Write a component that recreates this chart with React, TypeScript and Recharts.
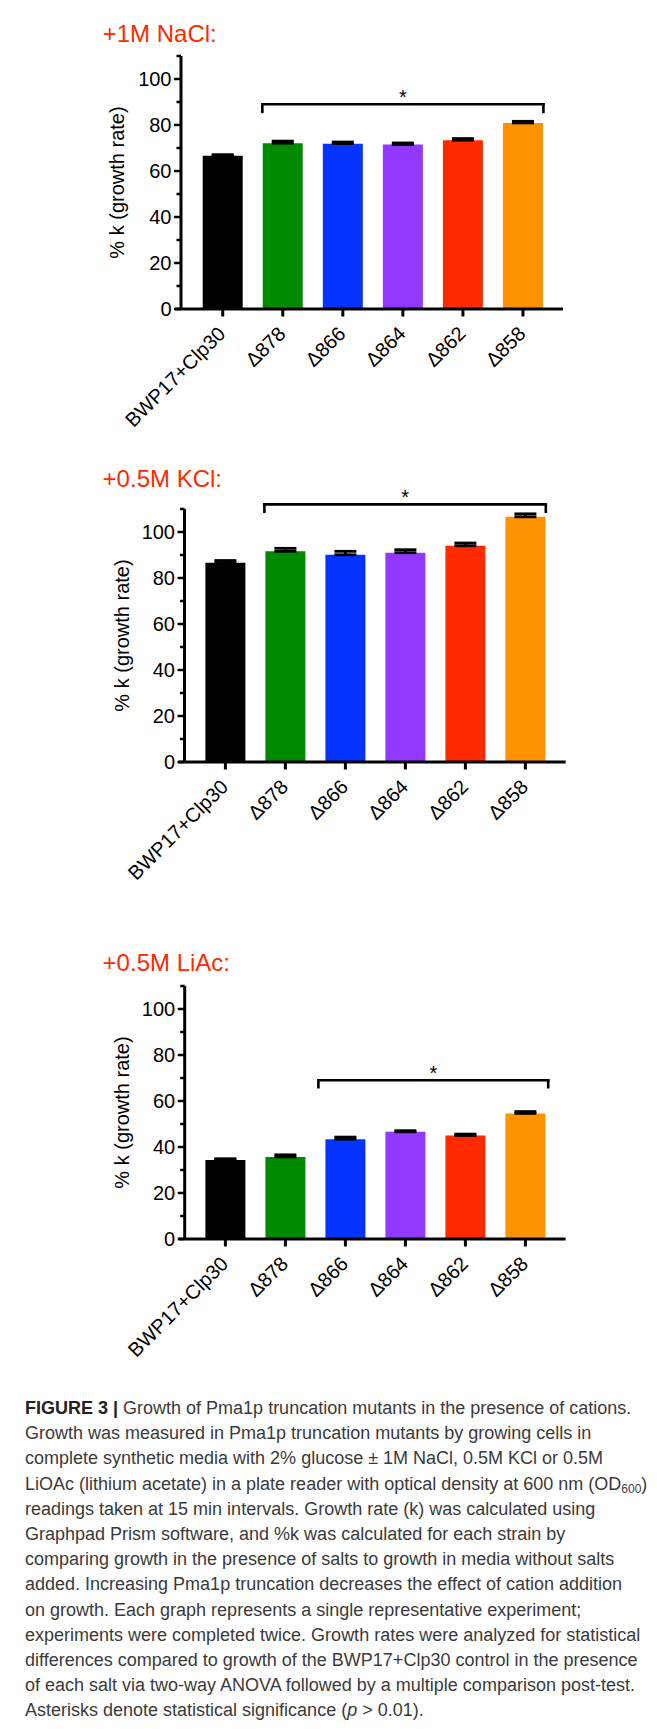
import React from 'react';
import { BarChart, Bar, XAxis, YAxis, ErrorBar, Cell, ReferenceLine, ReferenceDot } from 'recharts';

// ---------- data ----------
const categories = ['BWP17+Clp30', 'Δ878', 'Δ866', 'Δ864', 'Δ862', 'Δ858'];
const barColors = ['#000000', '#008A00', '#0533FF', '#9238FF', '#FF2A00', '#FF9200'];

const naclValues = [66.6, 72.1, 71.9, 71.5, 73.4, 80.9];
const naclErrors = [0.5, 0.9, 0.7, 0.7, 0.7, 0.7];

const kclValues = [86.6, 91.6, 90.1, 91.0, 94.0, 106.6];
const kclErrors = [1.0, 1.3, 1.5, 1.3, 1.2, 1.3];

const liacValues = [34.4, 35.7, 43.4, 46.6, 45.0, 54.6];
const liacErrors = [0.5, 0.9, 0.9, 0.5, 0.6, 0.8];

const yTicks = [0, 10, 20, 30, 40, 50, 60, 70, 80, 90, 100, 110];
const yDomain = [0, 110];

// significance brackets: span in category-index units (0 = first bar centre) and height (in % k)
const naclBracket = { from: 0.66, to: 5.34, level: 89, drop: 3.3 };
const kclBracket = { from: 0.65, to: 5.34, level: 112, drop: 3.2 };
const liacBracket = { from: 1.55, to: 5.38, level: 69, drop: 3.0 };

const titles = ['+1M NaCl:', '+0.5M KCl:', '+0.5M LiAc:'];
const yAxisLabel = '% k (growth rate)';

const captionLines: React.ReactNode[] = [
  <><b style={{ fontWeight: 700, color: '#222' }}>FIGURE 3 |</b> Growth of Pma1p truncation mutants in the presence of cations.</>,
  'Growth was measured in Pma1p truncation mutants by growing cells in',
  'complete synthetic media with 2% glucose \u00B1 1M NaCl, 0.5M KCl or 0.5M',
  <>LiOAc (lithium acetate) in a plate reader with optical density at 600 nm (OD<sub style={{ fontSize: '12px', verticalAlign: '-3px', lineHeight: 0 }}>600</sub>)</>,
  'readings taken at 15 min intervals. Growth rate (k) was calculated using',
  'Graphpad Prism software, and %k was calculated for each strain by',
  'comparing growth in the presence of salts to growth in media without salts',
  'added. Increasing Pma1p truncation decreases the effect of cation addition',
  'on growth. Each graph represents a single representative experiment;',
  'experiments were completed twice. Growth rates were analyzed for statistical',
  'differences compared to growth of the BWP17+Clp30 control in the presence',
  'of each salt via two-way ANOVA followed by a multiple comparison post-test.',
  <>Asterisks denote statistical significance (<i>p</i> &gt; 0.01).</>,
];

const FONT = '"Liberation Sans", Arial, Helvetica, sans-serif';

// ---------- tick renderers ----------
const YTick = (props: any) => {
  const { x, y, payload } = props;
  const v = payload.value;
  const major = v % 20 === 0 && v <= 100;
  return (
    <g>
      <line x1={x - (major ? 7 : 4.5)} x2={x} y1={y} y2={y} stroke="#000" strokeWidth={2.5} />
      {major && (
        <text x={x - 9.5} y={y} dy="0.36em" textAnchor="end" fontSize={20} fontFamily={FONT} fill="#000">
          {v}
        </text>
      )}
    </g>
  );
};

const XTick = (props: any) => {
  const { x, y, payload } = props;
  const ax = x + 4;
  const ay = y + 26;
  return (
    <g>
      <line x1={x} x2={x} y1={y} y2={y + 7.5} stroke="#000" strokeWidth={3} />
      <text
        x={ax}
        y={ay}
        textAnchor="end"
        transform={`rotate(-45 ${ax} ${ay})`}
        fontSize={20}
        fontFamily={FONT}
        fill="#000"
      >
        {payload.value}
      </text>
    </g>
  );
};

const YLabel = (props: any) => {
  const { viewBox, gap } = props;
  const cx = viewBox.x + viewBox.width - gap;
  const cy = viewBox.y + viewBox.height / 2;
  return (
    <text
      x={cx}
      y={cy}
      dy="0.35em"
      textAnchor="middle"
      transform={`rotate(-90 ${cx} ${cy})`}
      fontSize={20}
      fontFamily={FONT}
      fill="#000"
    >
      {yAxisLabel}
    </text>
  );
};

const Star = (props: any) => {
  const { cx, cy } = props;
  return (
    <text x={cx} y={cy - 0.5} textAnchor="middle" fontSize={20} fontFamily={FONT} fill="#000">
      *
    </text>
  );
};

// ---------- panel ----------
type Geometry = {
  axisX: number;
  plotTop: number;
  padL: number;
  padR: number;
  plotRight: number;
  labelGap: number;
  titleX: number;
  titleBaseline: number;
};

const MT = 40;
const PLOT_H = 253;
const XH = 135;
const CHART_W = 620;
const BAND = 60;

function Panel({
  title,
  values,
  errors,
  bracket,
  g,
}: {
  title: string;
  values: number[];
  errors: number[];
  bracket: { from: number; to: number; level: number; drop: number };
  g: Geometry;
}) {
  const rows = categories.map((name, i) => ({ name, value: values[i], err: [0, errors[i]] }));
  const mid = (bracket.from + bracket.to) / 2;
  const lineProps = {
    xAxisId: 'n',
    stroke: '#000',
    strokeWidth: 2.6,
    ifOverflow: 'visible' as const,
    strokeLinecap: 'square' as any,
  };
  const axisStart = -0.5 - g.padL / BAND;
  return (
    <>
      <div
        style={{
          position: 'absolute',
          left: g.titleX,
          top: g.titleBaseline - 20.3,
          fontFamily: FONT,
          fontSize: 24,
          lineHeight: '24px',
          color: '#FF2A00',
          whiteSpace: 'nowrap',
        }}
      >
        {title}
      </div>
      <div style={{ position: 'absolute', left: 0, top: g.plotTop - MT }}>
        <BarChart
          width={CHART_W}
          height={MT + PLOT_H + XH}
          data={rows}
          margin={{ top: MT, right: CHART_W - g.plotRight, bottom: 0, left: 0 }}
        >
          <XAxis
            dataKey="name"
            type="category"
            interval={0}
            padding={{ left: g.padL, right: g.padR }}
            axisLine={{ stroke: '#000', strokeWidth: 3 }}
            tickLine={false}
            tickSize={0}
            tickMargin={0}
            tick={<XTick />}
            height={XH}
          />
          <XAxis
            xAxisId="n"
            type="number"
            domain={[0, categories.length - 1]}
            allowDataOverflow
            padding={{ left: g.padL + BAND / 2, right: g.padR + BAND / 2 }}
            hide
          />
          <YAxis
            type="number"
            domain={yDomain}
            ticks={yTicks}
            interval={0}
            allowDataOverflow
            width={g.axisX}
            axisLine={{ stroke: '#000', strokeWidth: 3 }}
            tickLine={false}
            tickSize={0}
            tickMargin={0}
            tick={<YTick />}
            label={<YLabel gap={g.labelGap} />}
          />
          <Bar dataKey="value" barSize={40} isAnimationActive={false}>
            {rows.map((r, i) => (
              <Cell key={r.name} fill={barColors[i]} />
            ))}
            <ErrorBar dataKey="err" width={11} stroke="#000" strokeWidth={2.8} direction="y" isAnimationActive={false} />
          </Bar>
          <ReferenceLine
            {...lineProps}
            segment={[
              { x: axisStart, y: 0 },
              { x: axisStart - 6 / BAND, y: 0 },
            ]}
            strokeWidth={3}
            strokeLinecap={'butt' as any}
          />
          <ReferenceLine
            {...lineProps}
            segment={[
              { x: bracket.from, y: bracket.level },
              { x: bracket.to, y: bracket.level },
            ]}
          />
          <ReferenceLine
            {...lineProps}
            segment={[
              { x: bracket.from, y: bracket.level },
              { x: bracket.from, y: bracket.level - bracket.drop },
            ]}
          />
          <ReferenceLine
            {...lineProps}
            segment={[
              { x: bracket.to, y: bracket.level },
              { x: bracket.to, y: bracket.level - bracket.drop },
            ]}
          />
          <ReferenceDot xAxisId="n" x={mid} y={bracket.level} r={0} ifOverflow="visible" shape={<Star />} />
        </BarChart>
      </div>
    </>
  );
}

const geoms: Geometry[] = [
  { axisX: 173, plotTop: 48.3, padL: 11.7, padR: 10, plotRight: 555, labelGap: 64, titleX: 94.7, titleBaseline: 34.7 },
  { axisX: 176.5, plotTop: 501.3, padL: 10.9, padR: 10.2, plotRight: 557.6, labelGap: 63, titleX: 94.6, titleBaseline: 479.5 },
  { axisX: 176.7, plotTop: 977.7, padL: 10.7, padR: 10.2, plotRight: 557.6, labelGap: 63, titleX: 94.6, titleBaseline: 963 },
];

export default function App() {
  return (
    <div style={{ position: 'relative', width: 649, height: 1721, background: '#fff' }}>
      <div
        style={{
          position: 'absolute',
          left: -1,
          top: -1,
          width: 660,
          height: 1740,
          borderTop: '1px solid #555',
          borderLeft: '1px solid #555',
          boxSizing: 'border-box',
          pointerEvents: 'none',
        }}
      />
      <Panel title={titles[0]} values={naclValues} errors={naclErrors} bracket={naclBracket} g={geoms[0]} />
      <Panel title={titles[1]} values={kclValues} errors={kclErrors} bracket={kclBracket} g={geoms[1]} />
      <Panel title={titles[2]} values={liacValues} errors={liacErrors} bracket={liacBracket} g={geoms[2]} />
      <div
        style={{
          position: 'absolute',
          left: 17,
          top: 1388,
          fontFamily: FONT,
          fontSize: 18,
          lineHeight: '25.2px',
          color: '#3a3a3a',
          whiteSpace: 'nowrap',
        }}
      >
        {captionLines.map((l, i) => (
          <div key={i}>{l}</div>
        ))}
      </div>
    </div>
  );
}
